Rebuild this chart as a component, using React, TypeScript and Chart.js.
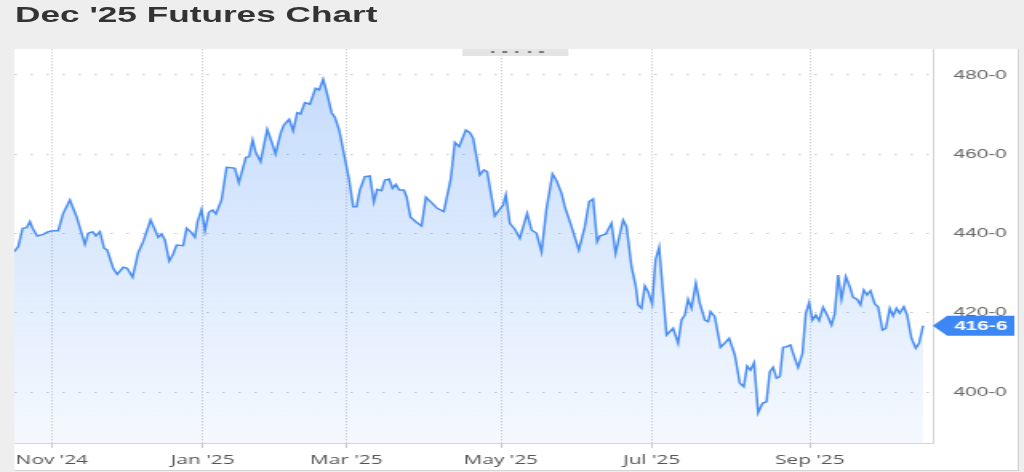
import React, { useEffect, useRef } from "react";
import { Chart, registerables } from "chart.js";

Chart.register(...registerables);

// x = trading-day index counted from 1 Nov 2024
const tradingDay = [
  -10.33, -9.16, -7.96, -6.88, -5.98, -5.24, -3.99, -2.36, -1.01, 0.35, 1.71, 3.07, 4.89, 6.71, 8.97, 9.86, 11.06, 11.96, 13.04, 14.21,
  15.03, 16.66, 17.74, 19.38, 20.46, 21.93, 23.45, 24.81, 26.82, 28.89, 29.81, 30.71, 31.88, 32.96, 33.89, 35.68, 36.6, 37.96, 38.86, 39.59,
  40.68, 41.58, 42.66,
  43.67, 44.57, 46.11, 47.47, 48.83, 49.73, 50.82, 52.72, 53.61, 54.54, 55.35, 56.71, 58.51, 59.7, 60.79, 62.15, 63.04, 64.48, 65.57, 66.66,
  67.58, 68.75, 70.11, 71.66, 72.64, 73.72, 74.65, 76.01, 76.9, 78.07, 79.35, 80.79, 81.88, 82.8, 83.7, 85.05, 86.41,
  87.5, 88.4, 89.59, 90.49, 91.66, 92.58, 93.48, 94.38, 95.65, 96.39, 97.47, 98.91, 100.46, 101.63, 103.18, 104.7, 106.52, 108.42, 109.51, 110.68,
  112.5, 113.59, 114.48, 116.3, 117.39, 118.29, 120.38, 121.55, 122.64, 123.37, 124.46, 125.82, 127.17,
  129.16, 130.35, 131.71, 133.07, 134.43, 136.06, 137.15, 138.51, 139.4, 141.22, 143.21, 144.84, 146.01, 147.09, 148.18, 148.91, 150.54, 152.09, 153.18, 155.24,
  156.17,
  157.53, 158.7, 159.32, 160.24, 161.14, 162.04, 163.13, 164.05, 165.03, 165.95, 167.04, 168.83, 170.19, 171.11, 172.01, 172.91, 173.83, 175.0, 176.09, 177.45,
  178.34, 179.0, 180.16, 181.71, 182.61, 184.05, 185.6, 186.96, 188.04, 188.94, 189.86, 190.84, 191.93, 193.13, 194.21, 195.11, 196.01, 196.93, 197.83,
  198.72, 199.65, 200.73, 201.9, 202.8, 203.99, 204.89, 205.79, 206.71, 207.61, 208.51, 209.59, 210.68, 211.88, 212.77, 213.67, 214.59, 215.76, 216.85, 217.74,
  218.83, 219.76, 220.65, 221.55, 222.47, 223.64, 224.54, 225.73, 226.63, 227.72, 228.61, 229.54, 230.43, 231.52, 232.42, 233.61, 234.78, 235.68, 236.77,
];

const settle = [
  435.34, 436.67, 441.32, 441.47, 442.98, 441.32, 439.37, 439.8, 440.46, 440.71, 440.71, 445.1, 448.46, 444.24, 437.28, 440.06, 440.46, 439.37, 440.46, 436.27,
  435.84, 431.22, 429.71, 431.48, 431.22, 428.95, 435.16, 437.94, 443.41, 439.05, 439.88, 438.37, 433.07, 434.83, 437.1, 436.93, 441.32, 440.21, 439.05, 442.98,
  446.11, 440.71, 445.35,
  445.94, 444.93, 448.46, 456.71, 456.61, 456.46, 452.82, 459.23, 459.38, 463.6, 460.65, 458.12, 466.3, 463.17, 460.07, 465.29, 467.38, 468.82, 465.95, 470.49,
  470.16, 473.01, 472.61, 476.64, 476.22, 478.91, 475.79, 470.49, 469.33, 466.12, 460.24, 453.51, 446.77, 446.77, 450.98, 454.34, 454.51,
  448.03, 451.16, 450.81, 453.51, 453.76, 451.41, 452.42, 450.98, 450.98, 449.29, 444.09, 442.98, 441.9, 449.14, 447.78, 446.36, 445.51, 453.93, 463.02, 461.91,
  466.12, 465.44, 464.03, 454.77, 456.03, 455.6, 444.42, 445.94, 447.2, 449.72, 442.58, 441.07, 438.79,
  445.1, 440.89, 440.06, 435.41, 446.36, 455.02, 453.33, 450.15, 446.77, 441.72, 435.84, 441.72, 448.03, 448.71, 437.94, 439.37, 439.88, 442.58, 435.01, 443.41,
  441.72,
  431.63, 426.58, 421.96, 421.13, 426.76, 425.32, 422.22, 433.32, 436.52, 426.58, 414.39, 416.08, 412.3, 418.18, 419.44, 423.4, 421.13, 427.44, 422.39, 418.18,
  417.75, 420.27, 419.01, 411.29, 412.12, 413.56, 409.35, 402.21, 401.35, 406.57, 405.56, 407.4, 394.79, 397.16, 397.56, 405.13, 406.24, 403.47, 403.87,
  411.29, 411.44, 411.87, 408.51, 406.24, 409.78, 419.87, 422.54, 418.18, 419.44, 418.0, 421.38, 419.44, 416.92, 419.87, 429.53, 423.4, 429.1, 426.58, 423.91,
  423.4, 421.96, 425.75, 424.49, 425.57, 422.22, 421.53, 415.66, 416.08, 421.13, 419.19, 421.13, 419.87, 421.53, 419.44, 413.56, 411.04, 412.3, 416.75,
];

const monthTickDays = [0, 41, 80, 122, 163, 206];
const monthLabels = ["Nov '24", "Jan '25", "Mar '25", "May '25", "Jul '25", "Sep '25"];
const priceTicks = [400, 420, 440, 460, 480];
const lastPrice = 416.75;
const titleText = "Dec '25 Futures Chart";

function fmtPrice(v: number): string {
  const whole = Math.floor(v + 1e-9);
  const eighths = Math.round((v - whole) * 8);
  return `${whole}-${eighths}`;
}

function zeroPadding(s: any) {
  s.paddingTop = 0;
  s.paddingBottom = 0;
  s.paddingLeft = 0;
  s.paddingRight = 0;
}

const priceTagPlugin = {
  id: "priceTag",
  afterDraw(chart: any) {
    const { ctx, chartArea, scales } = chart;
    const y = scales.y.getPixelForValue(lastPrice);
    const tip = chartArea.right;
    const left = tip + 9;
    const right = tip + 51;
    const h = 20;
    ctx.save();
    ctx.fillStyle = "#3d87f5";
    ctx.beginPath();
    ctx.moveTo(tip, y);
    ctx.lineTo(left, y - h / 2);
    ctx.lineTo(right, y - h / 2);
    ctx.lineTo(right, y + h / 2);
    ctx.lineTo(left, y + h / 2);
    ctx.closePath();
    ctx.fill();
    ctx.fillStyle = "#ffffff";
    ctx.font = 'bold 13px "Liberation Sans", Arial, sans-serif';
    ctx.textAlign = "center";
    ctx.textBaseline = "middle";
    ctx.fillText(fmtPrice(lastPrice), (left + right) / 2, y + 0.5);
    ctx.restore();
  },
};

export default function App() {
  const canvasRef = useRef<HTMLCanvasElement | null>(null);

  useEffect(() => {
    const canvas = canvasRef.current;
    if (!canvas) return;
    const chart = new Chart(canvas, {
      type: "line",
      data: {
        datasets: [
          {
            data: tradingDay.map((d, i) => ({ x: d, y: settle[i] })),
            borderColor: "#4a8ef2",
            borderWidth: 1.5,
            pointRadius: 0,
            tension: 0,
            fill: "start",
            backgroundColor: (c: any) => {
              const area = c.chart.chartArea;
              if (!area) return "rgba(74,142,242,0.15)";
              const g = c.chart.ctx.createLinearGradient(0, area.top, 0, area.bottom);
              g.addColorStop(0, "rgba(66,140,245,0.32)");
              g.addColorStop(1, "rgba(66,140,245,0.05)");
              return g;
            },
          },
        ],
      },
      options: {
        animation: false,
        responsive: false,
        devicePixelRatio: 1,
        layout: { padding: 0 },
        plugins: { legend: { display: false }, tooltip: { enabled: false } },
        scales: {
          x: {
            type: "linear",
            min: -10.2,
            max: 239.4,
            afterBuildTicks: (s: any) => {
              s.ticks = monthTickDays.map((v) => ({ value: v }));
            },
            afterFit: (s: any) => {
              s.height = 27;
              zeroPadding(s);
            },
            ticks: {
              autoSkip: false,
              maxRotation: 0,
              padding: 4,
              color: "#555",
              font: { family: '"Open Sans", sans-serif', size: 13 },
              callback: (v: any) => {
                const i = monthTickDays.indexOf(Number(v));
                return i >= 0 ? monthLabels[i] : "";
              },
            },
            grid: { color: "#d4d4d4", lineWidth: 1, drawTicks: true, tickLength: 5, tickColor: "#c8c8c8" },
            border: { display: true, color: "#d6d6d6", width: 1, dash: [1.5, 1.5] },
          },
          y: {
            position: "right",
            min: 387.14,
            max: 486.56,
            afterBuildTicks: (s: any) => {
              s.ticks = priceTicks.map((v) => ({ value: v }));
            },
            afterFit: (s: any) => {
              s.width = 53;
              zeroPadding(s);
            },
            ticks: {
              padding: 13,
              color: "#666",
              font: { family: '"Liberation Sans", Arial, sans-serif', size: 13 },
              callback: (v: any) => fmtPrice(Number(v)),
            },
            grid: { color: "#c8c8c8", drawTicks: false, lineWidth: 1 },
            border: { display: true, color: "#d6d6d6", width: 1, dash: [1.5, 8.5] },
          },
        },
      },
      plugins: [priceTagPlugin],
    } as any);
    return () => chart.destroy();
  }, []);

  return (
    <div style={{ position: "fixed", left: 0, top: 0, width: 1024, height: 472, background: "#eeeeee", overflow: "hidden" }}>
      <div style={{ position: "absolute", left: 0, top: 0, width: 640, height: 472, transform: "scaleX(1.6)", transformOrigin: "0 0" }}>
        <div
          style={{
            position: "absolute",
            left: 9.4,
            top: 4,
            font: 'bold 22px "Liberation Sans", Arial, sans-serif',
            lineHeight: "22px",
            color: "#333",
            whiteSpace: "nowrap",
          }}
        >
          {titleText}
        </div>
        <div
          style={{
            position: "absolute",
            left: 9,
            top: 49,
            width: 627,
            height: 421,
            background: "#ffffff",
            borderRight: "1px solid #d4d4d4",
            borderBottom: "1px solid #d4d4d4",
          }}
        >
          <canvas ref={canvasRef} width={627} height={421} style={{ display: "block" }} />
        </div>
        <div style={{ position: "absolute", left: 289, top: 49, width: 66, height: 7, background: "#e4e4e4" }}>
          {[17.5, 25, 32.5, 40.5, 48].map((x, i) => (
            <div key={i} style={{ position: "absolute", left: x, top: 2, width: 2.5, height: 2, background: "#777" }} />
          ))}
        </div>
      </div>
    </div>
  );
}
